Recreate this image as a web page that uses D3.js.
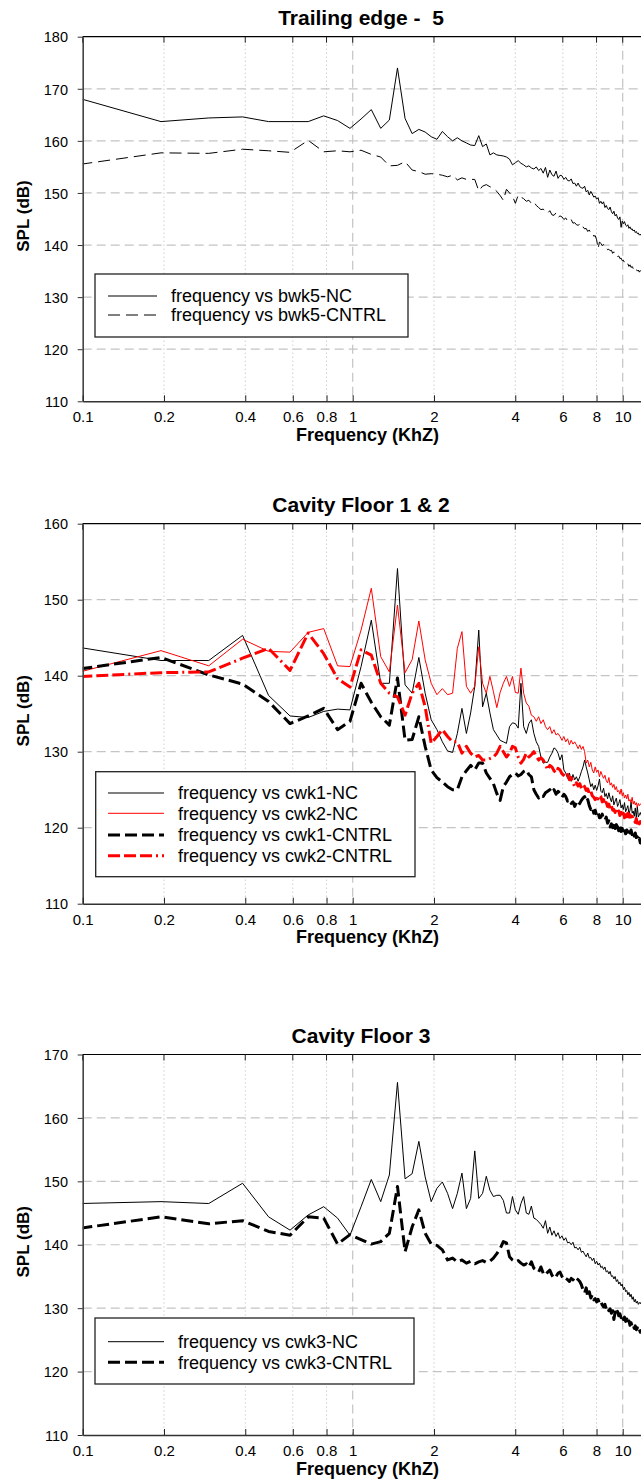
<!DOCTYPE html>
<html>
<head>
<meta charset="utf-8">
<script src="https://cdn.jsdelivr.net/npm/d3@7/dist/d3.min.js"></script>
<style>
    body { margin: 0; background: #fff; }
    svg { display: block; }
    text { font-family: "Liberation Sans", Arial, sans-serif; fill: #000; }
</style>
</head>
<body>
<svg id="chart"></svg>
<script>
// frequency bins (kHz)
var freq = [0.098, 0.195, 0.293, 0.391, 0.488, 0.586, 0.684, 0.781, 0.879, 0.977,
    1.074, 1.172, 1.270, 1.367, 1.465, 1.563, 1.660, 1.758, 1.855, 1.953,
    2.051, 2.148, 2.246, 2.344, 2.441, 2.539, 2.637, 2.734, 2.832, 2.930,
    3.027, 3.125, 3.223, 3.320, 3.418, 3.516, 3.613, 3.711, 3.809, 3.906,
    4.004, 4.102, 4.199, 4.297, 4.395, 4.492, 4.590, 4.688, 4.785, 4.883,
    4.980, 5.078, 5.176, 5.273, 5.371, 5.469, 5.566, 5.664, 5.762, 5.859,
    5.957, 6.055, 6.152, 6.250, 6.348, 6.445, 6.543, 6.641, 6.738, 6.836,
    6.934, 7.031, 7.129, 7.227, 7.324, 7.422, 7.520, 7.617, 7.715, 7.813,
    7.910, 8.008, 8.105, 8.203, 8.301, 8.398, 8.496, 8.594, 8.691, 8.789,
    8.887, 8.984, 9.082, 9.180, 9.277, 9.375, 9.473, 9.570, 9.668, 9.766,
    9.863, 9.961, 10.059, 10.156, 10.254, 10.352, 10.449, 10.547, 10.645, 10.742,
    10.840, 10.938, 11.035, 11.133, 11.230, 11.328, 11.426, 11.523, 11.621, 11.719];

var bwk5NC = [168.1, 163.7, 164.4, 164.6, 163.7, 163.7, 163.7, 164.8, 163.9, 162.4,
    164.2, 166.0, 162.4, 164.0, 174.0, 164.3, 161.4, 162.2, 161.7, 160.8,
    160.3, 161.8, 160.8, 160.0, 160.6, 160.0, 159.6, 159.2, 159.1, 161.0,
    158.9, 159.4, 157.3, 157.7, 157.3, 157.2, 157.1, 156.9, 156.5, 155.4,
    155.8, 156.2, 155.7, 155.4, 155.0, 155.2, 154.8, 154.6, 155.0, 154.3,
    154.7, 153.8, 154.9, 153.0, 154.4, 153.5, 153.2, 154.2, 152.8, 153.4,
    153.3, 152.6, 153.0, 152.4, 152.3, 152.7, 151.8, 151.9, 151.3, 151.9,
    151.2, 151.0, 150.9, 151.3, 150.2, 150.5, 149.6, 150.3, 149.8, 149.2,
    149.4, 148.8, 149.1, 148.0, 148.4, 147.9, 148.3, 147.2, 147.6, 147.0,
    146.8, 147.3, 146.4, 146.0, 146.5, 145.6, 145.9, 145.2, 144.9, 145.4,
    143.4, 144.6, 144.1, 144.5, 143.8, 143.6, 143.9, 143.2, 143.5, 143.0,
    143.1, 142.7, 142.9, 142.4, 142.6, 142.2, 142.3, 141.9, 142.1, 141.8];

var bwk5CNTRL = [155.5, 157.7, 157.6, 158.4, 158.1, 157.8, 160.1, 157.9, 158.1, 157.9,
    158.2, 157.4, 156.9, 155.2, 155.3, 156.0, 154.4, 154.1, 153.6, 153.7,
    153.6, 153.4, 153.1, 153.4, 152.5, 152.9, 152.6, 152.6, 152.6, 150.4,
    151.3, 151.6, 151.2, 150.9, 150.3, 149.5, 148.6, 150.7, 150.0, 149.4,
    148.0, 149.6, 149.2, 148.9, 148.4, 148.6, 148.0, 148.3, 147.6, 147.2,
    146.8, 146.9, 146.4, 146.1, 146.6, 145.8, 145.7, 146.2, 145.3, 145.6,
    145.4, 144.9, 145.2, 144.6, 144.5, 144.9, 144.2, 144.3, 143.9, 143.8,
    144.0, 143.3, 143.5, 143.1, 143.2, 142.6, 142.9, 142.3, 142.4, 141.7,
    141.8, 141.0, 139.3, 140.6, 140.3, 139.9, 140.1, 139.5, 139.6, 139.1,
    139.2, 138.9, 139.0, 138.4, 138.7, 138.3, 138.4, 137.8, 137.9, 137.4,
    137.5, 137.0, 137.1, 136.6, 136.8, 136.3, 136.4, 135.9, 136.2, 135.7,
    135.9, 135.5, 135.7, 135.2, 135.4, 135.0, 135.2, 134.8, 135.1, 134.9];

var cwk1NC = [143.7, 142.0, 142.0, 145.3, 137.4, 134.7, 134.5, 135.3, 135.6, 135.5,
    141.2, 147.3, 139.0, 139.0, 154.1, 138.8, 137.7, 142.4, 137.7, 134.2,
    132.9, 131.3, 130.1, 129.9, 132.4, 135.7, 132.4, 135.1, 138.6, 146.0,
    135.9, 137.7, 135.1, 132.9, 132.2, 131.5, 131.3, 131.1, 133.3, 133.8,
    133.7, 133.1, 139.0, 133.3, 132.4, 133.7, 134.2, 132.4, 131.3, 130.7,
    129.3, 128.5, 128.6, 128.6, 129.3, 129.8, 130.5, 130.3, 129.8, 128.9,
    129.6, 127.6, 127.2, 126.5, 127.2, 126.1, 127.0, 126.3, 126.7, 126.1,
    126.7, 127.4, 128.0, 128.9, 128.0, 127.2, 126.3, 125.4, 125.8, 125.0,
    125.6, 124.9, 125.5, 126.4, 124.8, 124.6, 125.2, 124.1, 124.5, 123.8,
    124.6, 123.9, 123.4, 124.2, 123.0, 123.5, 123.9, 122.8, 123.2, 123.7,
    122.6, 123.0, 122.4, 123.3, 122.1, 122.5, 122.9, 121.8, 122.3, 123.4,
    121.9, 122.2, 121.5, 122.6, 121.3, 122.8, 121.4, 121.7, 122.0, 121.6];

var cwk2NC = [140.5, 143.3, 141.3, 144.8, 143.2, 143.1, 145.7, 146.2, 141.3, 141.2,
    146.0, 151.5, 142.5, 140.5, 149.3, 140.4, 142.1, 147.2, 142.1, 139.0,
    137.5, 138.3, 137.5, 137.7, 143.6, 145.8, 138.6, 137.7, 138.6, 143.8,
    139.0, 137.7, 139.9, 137.9, 135.8, 137.8, 139.0, 139.9, 138.6, 139.9,
    137.8, 137.7, 141.0, 137.7, 136.4, 136.0, 134.8, 134.6, 134.0, 134.6,
    133.7, 134.2, 133.3, 132.9, 133.3, 132.4, 132.9, 132.2, 132.4, 132.0,
    131.5, 132.0, 131.3, 131.7, 130.9, 131.5, 131.0, 131.3, 130.9, 130.4,
    130.9, 130.3, 130.7, 130.0, 128.5, 128.9, 128.0, 128.6, 127.6, 127.2,
    128.0, 127.3, 127.6, 126.7, 127.4, 126.9, 126.5, 126.9, 126.2, 125.9,
    126.6, 125.6, 125.9, 125.3, 125.7, 125.0, 125.4, 124.7, 124.9, 124.4,
    125.1, 124.2, 124.6, 123.9, 124.3, 123.8, 124.4, 123.5, 123.7, 123.3,
    124.0, 123.1, 123.5, 123.0, 123.3, 122.7, 123.2, 122.9, 123.1, 123.2];

var cwk1CNTRL = [140.9, 142.4, 140.1, 138.9, 136.6, 133.7, 134.7, 135.7, 132.9, 134.0,
    139.0, 136.5, 134.6, 133.5, 139.7, 131.5, 131.6, 134.6, 130.7, 127.6,
    126.6, 126.0, 125.4, 125.0, 125.0, 126.7, 127.5, 128.2, 127.6, 128.5,
    128.5, 127.2, 126.5, 125.8, 124.5, 123.6, 125.4, 126.0, 126.7, 127.0,
    127.2, 126.8, 127.0, 127.4, 127.6, 127.0, 126.7, 125.0, 124.4, 123.9,
    124.3, 124.1, 124.6, 124.8, 125.0, 124.6, 125.0, 124.4, 124.8, 124.5,
    124.0, 124.4, 124.1, 123.5, 123.7, 123.2, 123.4, 122.8, 123.3, 122.9,
    123.2, 123.6, 123.9, 124.1, 123.4, 123.7, 122.9, 122.4, 122.7, 121.9,
    122.3, 121.6, 122.0, 121.3, 121.4, 121.8, 121.1, 121.0, 121.4, 120.6,
    120.9, 120.1, 120.5, 120.0, 120.6, 119.9, 120.4, 120.1, 119.6, 120.2,
    119.5, 119.9, 119.3, 119.8, 119.2, 119.7, 119.4, 119.9, 119.3, 119.7,
    119.1, 119.5, 118.9, 119.3, 118.7, 118.8, 118.3, 118.6, 118.0, 117.9];

var cwk2CNTRL = [139.9, 140.4, 140.5, 142.3, 143.6, 140.7, 145.6, 142.9, 139.6, 138.5,
    143.4, 142.7, 139.0, 137.7, 137.2, 134.8, 137.7, 139.0, 135.9, 131.1,
    132.0, 132.9, 132.0, 131.3, 131.3, 129.8, 130.7, 129.8, 129.3, 129.5,
    128.9, 128.9, 129.1, 129.3, 129.8, 130.7, 130.0, 129.3, 129.8, 130.7,
    130.5, 129.3, 128.5, 129.0, 129.8, 129.3, 129.6, 130.0, 129.4, 128.9,
    129.2, 128.9, 128.3, 127.6, 128.2, 128.0, 127.5, 127.2, 127.8, 127.6,
    127.1, 126.9, 126.7, 127.0, 126.3, 126.6, 125.9, 125.4, 125.9, 125.5,
    125.8, 125.2, 125.6, 125.4, 124.9, 125.1, 124.5, 124.8, 124.2, 124.0,
    123.7, 124.2, 123.8, 124.3, 124.1, 123.4, 123.7, 123.0, 123.3, 122.8,
    123.1, 122.5, 122.9, 122.3, 122.4, 122.0, 122.6, 121.8, 122.2, 121.6,
    122.0, 121.5, 121.9, 121.3, 121.7, 121.2, 121.9, 121.4, 121.7, 121.1,
    121.5, 121.0, 121.0, 120.7, 121.2, 120.6, 121.0, 120.5, 120.8, 120.6];

var cwk3NC = [146.5, 146.8, 146.5, 149.7, 144.4, 142.3, 144.7, 146.0, 144.2, 141.5,
    146.0, 150.3, 146.8, 151.0, 165.6, 150.4, 151.2, 156.3, 150.7, 146.8,
    148.9, 149.9, 148.1, 145.7, 148.1, 151.3, 145.7, 147.3, 154.8, 147.3,
    148.1, 150.8, 148.6, 147.6, 147.8, 147.8, 147.0, 145.0, 145.0, 147.6,
    145.5, 144.8, 146.5, 147.6, 145.0, 144.8, 146.1, 144.2, 144.0, 143.6,
    143.2, 142.6, 143.8, 141.8, 142.8, 141.5, 142.2, 141.3, 141.9, 141.0,
    141.4, 140.7, 141.1, 140.3, 140.4, 140.0, 140.4, 139.5, 139.6, 139.2,
    139.6, 138.8, 139.0, 138.5, 138.1, 138.7, 137.9, 138.0, 137.5, 137.9,
    137.0, 137.4, 136.8, 137.1, 136.4, 136.6, 136.1, 136.5, 135.7, 135.9,
    135.4, 135.8, 135.0, 135.1, 134.6, 135.0, 134.2, 134.5, 133.8, 134.1,
    133.5, 133.8, 132.9, 133.3, 132.6, 132.8, 132.1, 132.5, 131.8, 132.2,
    131.4, 131.8, 131.0, 131.4, 130.8, 131.1, 130.6, 130.9, 130.7, 131.0];

var cwk3CNTRL = [142.6, 144.4, 143.3, 143.8, 142.1, 141.5, 144.4, 144.2, 140.1, 141.6,
    140.8, 140.1, 140.5, 141.8, 149.2, 138.9, 142.8, 145.5, 141.8, 140.1,
    139.9, 139.2, 137.6, 137.9, 137.3, 137.6, 137.1, 137.4, 137.0, 137.3,
    137.5, 137.2, 137.4, 137.9, 138.6, 139.4, 140.5, 140.3, 138.1, 137.6,
    137.3, 137.5, 137.1, 136.8, 137.0, 136.5, 137.3, 136.3, 136.0, 135.7,
    136.5, 135.5, 135.2, 135.7, 136.0, 135.2, 134.7, 135.0, 135.5, 135.7,
    135.0, 134.5, 134.7, 134.5, 134.2, 134.7, 134.5, 134.2, 134.7, 134.5,
    134.2, 133.7, 132.9, 132.4, 133.2, 131.8, 132.6, 131.6, 132.1, 131.3,
    131.5, 131.0, 131.4, 130.8, 131.1, 130.5, 130.2, 130.6, 129.9, 130.2,
    129.6, 129.9, 129.2, 129.6, 128.2, 129.4, 129.0, 129.5, 128.8, 129.1,
    128.5, 128.9, 128.2, 128.6, 127.9, 128.3, 127.6, 128.0, 127.3, 127.7,
    127.1, 127.4, 126.8, 127.2, 126.6, 126.9, 126.4, 126.7, 126.2, 126.3];

var xTicks = [0.1, 0.2, 0.4, 0.6, 0.8, 1, 2, 4, 6, 8, 10];
var xTickLabels = ['0.1', '0.2', '0.4', '0.6', '0.8', '1', '2', '4', '6', '8', '10'];
var xDecades = [1, 10];
var xTitle = 'Frequency (KhZ)';
var yTitle = 'SPL (dB)';

var titles = ['Trailing edge -  5', 'Cavity Floor 1 & 2', 'Cavity Floor 3'];
var yDomains = [[110, 180], [110, 160], [110, 170]];
var legendLabels = [
    ['frequency vs bwk5-NC', 'frequency vs bwk5-CNTRL'],
    ['frequency vs cwk1-NC', 'frequency vs cwk2-NC', 'frequency vs cwk1-CNTRL', 'frequency vs cwk2-CNTRL'],
    ['frequency vs cwk3-NC', 'frequency vs cwk3-CNTRL']
];
var panelSeries = [
    [bwk5NC, bwk5CNTRL],
    [cwk1NC, cwk2NC, cwk1CNTRL, cwk2CNTRL],
    [cwk3NC, cwk3CNTRL]
];

// line styles and layout
var styles = [
    [{ color: '#000', width: 1, dash: null }, { color: '#000', width: 1, dash: '12,6' }],
    [{ color: '#000', width: 1, dash: null }, { color: '#ff0000', width: 1, dash: null },
     { color: '#000', width: 3, dash: '12,5' }, { color: '#ff0000', width: 3, dash: '12,4,12,4,12,4,2,4' }],
    [{ color: '#000', width: 1, dash: null }, { color: '#000', width: 3, dash: '12,5' }]
];
var layout = [
    { top: 36.7, bottom: 401.3, legend: { x: 95, y: 274, w: 313, h: 63, rows: [22, 41], line: [108, 157], text: 171 } },
    { top: 523.7, bottom: 903.7, legend: { x: 95.7, y: 771.7, w: 319.3, h: 105, rows: [21.3, 41.6, 63.3, 84] , line: [108, 164], text: 178 } },
    { top: 1054.5, bottom: 1435, legend: { x: 95, y: 1318, w: 319, h: 66, rows: [23.7, 44.3], line: [108, 164], text: 178 } }
];

var width = 641,
    height = 1481,
    left = 82.7,
    right = 641,
    titleX = 361,
    xTitleX = 367.5;

var svg = d3.select('#chart')
    .attr('width', width)
    .attr('height', height);

var xScale = d3.scaleLog()
    .domain([0.1, 20])
    .range([left, left + 270 * Math.log10(200)]);

layout.forEach(function(p, i) {

    var yScale = d3.scaleLinear()
        .domain(yDomains[i])
        .range([p.bottom, p.top]);
    var yTicks = d3.range(yDomains[i][0], yDomains[i][1] + 1, 10);

    var g = svg.append('g');

    g.append('clipPath')
        .attr('id', 'clip' + i)
        .append('rect')
        .attr('x', left)
        .attr('y', p.top)
        .attr('width', right - left)
        .attr('height', p.bottom - p.top);

    // horizontal grid
    g.selectAll('.hgrid')
        .data(yTicks.slice(1, -1))
        .enter().append('line')
        .attr('x1', left).attr('x2', right)
        .attr('y1', d => yScale(d)).attr('y2', d => yScale(d))
        .style('stroke', '#c4c4c4')
        .style('stroke-width', 1.2)
        .style('stroke-dasharray', '9,5');

    // vertical grid: dashed at decades, dotted elsewhere
    g.selectAll('.vgrid')
        .data(xTicks.slice(1))
        .enter().append('line')
        .attr('x1', d => xScale(d)).attr('x2', d => xScale(d))
        .attr('y1', p.top).attr('y2', p.bottom)
        .style('stroke', d => xDecades.indexOf(d) >= 0 ? '#c4c4c4' : '#b8b8b8')
        .style('stroke-width', d => xDecades.indexOf(d) >= 0 ? 1.2 : 1)
        .style('stroke-dasharray', d => xDecades.indexOf(d) >= 0 ? '9,5' : '1,3');

    // series
    var line = d3.line()
        .x(d => xScale(d[0]))
        .y(d => yScale(d[1]));

    var plot = g.append('g').attr('clip-path', 'url(#clip' + i + ')');
    panelSeries[i].forEach(function(values, s) {
        var st = styles[i][s];
        plot.append('path')
            .datum(freq.map((f, k) => [f, values[k]]))
            .attr('d', line)
            .style('fill', 'none')
            .style('stroke', st.color)
            .style('stroke-width', st.width)
            .style('stroke-linejoin', 'round')
            .style('stroke-dasharray', st.dash);
    });

    // frame top
    g.append('line')
        .attr('x1', left).attr('x2', right)
        .attr('y1', p.top).attr('y2', p.top)
        .style('stroke', '#000')
        .style('stroke-width', 1.2);

    // top ticks
    g.selectAll('.ttick')
        .data(xTicks)
        .enter().append('line')
        .attr('x1', d => xScale(d)).attr('x2', d => xScale(d))
        .attr('y1', p.top).attr('y2', p.top + 6)
        .style('stroke', '#222');

    // axes
    var yAxis = d3.axisLeft(yScale)
        .tickValues(yTicks)
        .tickSize(5)
        .tickSizeOuter(0)
        .tickPadding(9.7);

    var ya = g.append('g')
        .attr('transform', 'translate(' + left + ',0)')
        .call(yAxis);
    ya.selectAll('text').style('font-size', '14.5px').attr('dy', '0.36em');
    ya.selectAll('line').style('stroke', '#333');
    ya.select('.domain').style('stroke', '#444').style('stroke-width', 1.6);

    var xAxis = d3.axisBottom(xScale)
        .tickValues(xTicks)
        .tickSize(-6)
        .tickSizeOuter(0)
        .tickPadding(10.3)
        .tickFormat((d, k) => xTickLabels[k]);

    var xa = g.append('g')
        .attr('transform', 'translate(0,' + p.bottom + ')')
        .call(xAxis);
    xa.selectAll('text').style('font-size', '15px');
    xa.selectAll('line').style('stroke', '#222');
    xa.select('.domain').style('stroke', '#333').style('stroke-width', 1.4);

    // titles
    g.append('text')
        .attr('x', titleX)
        .attr('y', p.top - 11.4)
        .attr('text-anchor', 'middle')
        .style('font-size', '21px')
        .style('font-weight', 'bold')
        .style('white-space', 'pre')
        .text(titles[i]);

    g.append('text')
        .attr('x', xTitleX)
        .attr('y', p.bottom + 39.5)
        .attr('text-anchor', 'middle')
        .style('font-size', '18px')
        .style('font-weight', 'bold')
        .text(xTitle);

    g.append('text')
        .attr('transform', 'translate(28.6,' + ((p.top + p.bottom) / 2 - 3) + ') rotate(-90)')
        .attr('text-anchor', 'middle')
        .style('font-size', '17px')
        .style('font-weight', 'bold')
        .text(yTitle);

    // legend
    var lg = g.append('g')
        .attr('transform', 'translate(0,' + p.legend.y + ')');

    lg.append('rect')
        .attr('x', p.legend.x)
        .attr('y', 0)
        .attr('width', p.legend.w)
        .attr('height', p.legend.h)
        .style('fill', '#fff')
        .style('stroke', '#222')
        .style('stroke-width', 1.3);

    var item = lg.selectAll('.item')
        .data(legendLabels[i])
        .enter().append('g')
        .attr('transform', (d, k) => 'translate(0,' + p.legend.rows[k] + ')');

    item.append('line')
        .attr('x1', p.legend.line[0]).attr('x2', p.legend.line[1])
        .attr('y1', 0).attr('y2', 0)
        .style('stroke', (d, k) => styles[i][k].color)
        .style('stroke-width', (d, k) => styles[i][k].width)
        .style('stroke-dasharray', (d, k) => styles[i][k].dash);

    item.append('text')
        .attr('x', p.legend.text)
        .attr('dy', '0.35em')
        .style('font-size', '18px')
        .text(d => d);
});
</script>
</body>
</html>
